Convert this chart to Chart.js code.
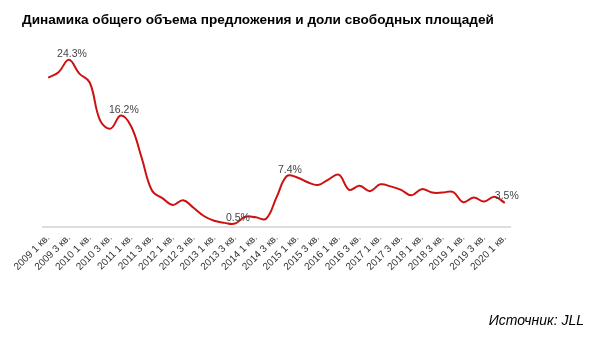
<!DOCTYPE html>
<html>
<head>
<meta charset="utf-8">
<script src="https://cdn.jsdelivr.net/npm/chart.js@4/dist/chart.umd.min.js"></script>
<style>
  html, body { margin: 0; padding: 0; background: #fff; }
  #wrap { position: relative; width: 600px; height: 342px; overflow: hidden; }
  #title { position: absolute; left: 22px; top: 12px; font: bold 13.6px "Liberation Sans", Arial, sans-serif; color: #000; white-space: nowrap; }
  #source { position: absolute; right: 16px; top: 312px; font: italic 14px "Liberation Sans", Arial, sans-serif; color: #000; white-space: nowrap; }
  #c { position: absolute; left: 0; top: 0; }
</style>
</head>
<body>
<div id="wrap">
  <canvas id="c" width="600" height="342"></canvas>
  <div id="title">Динамика общего объема предложения и доли свободных площадей</div>
  <div id="source">Источник: JLL</div>
</div>
<script>
const categories = [
  "2009 1 кв.","2009 2 кв.","2009 3 кв.","2009 4 кв.",
  "2010 1 кв.","2010 2 кв.","2010 3 кв.","2010 4 кв.",
  "2011 1 кв.","2011 2 кв.","2011 3 кв.","2011 4 кв.",
  "2012 1 кв.","2012 2 кв.","2012 3 кв.","2012 4 кв.",
  "2013 1 кв.","2013 2 кв.","2013 3 кв.","2013 4 кв.",
  "2014 1 кв.","2014 2 кв.","2014 3 кв.","2014 4 кв.",
  "2015 1 кв.","2015 2 кв.","2015 3 кв.","2015 4 кв.",
  "2016 1 кв.","2016 2 кв.","2016 3 кв.","2016 4 кв.",
  "2017 1 кв.","2017 2 кв.","2017 3 кв.","2017 4 кв.",
  "2018 1 кв.","2018 2 кв.","2018 3 кв.","2018 4 кв.",
  "2019 1 кв.","2019 2 кв.","2019 3 кв.","2019 4 кв.",
  "2020 1 кв."
];
const vacancy = [
  21.7, 22.5, 24.3, 22.3, 21.0, 15.5, 14.3, 16.2, 14.6, 10.1,
  5.3, 4.2, 3.2, 3.9, 2.8, 1.6, 0.9, 0.6, 0.5, 1.5,
  1.4, 1.2, 4.3, 7.4, 7.2, 6.5, 6.1, 6.9, 7.6, 5.4,
  6.0, 5.2, 6.2, 5.9, 5.4, 4.6, 5.5, 5.0, 5.0, 5.1,
  3.6, 4.3, 3.7, 4.4, 3.5
];
const labelledPoints = [2, 7, 18, 23, 44];

const valueLabels = {
  id: 'valueLabels',
  afterDatasetsDraw(chart) {
    const ctx = chart.ctx;
    const meta = chart.getDatasetMeta(0);
    ctx.save();
    ctx.font = '10.5px "Liberation Sans", Arial, sans-serif';
    ctx.fillStyle = '#444444';
    ctx.textBaseline = 'alphabetic';
    labelledPoints.forEach((i, k) => {
      const p = meta.data[i];
      const txt = vacancy[i].toFixed(1) + '%';
      if (k === labelledPoints.length - 1) {
        ctx.textAlign = 'left';
        ctx.fillText(txt, p.x - 10, p.y - 4);
      } else {
        ctx.textAlign = 'center';
        ctx.fillText(txt, p.x + 3, p.y - 3);
      }
    });
    ctx.restore();
  }
};

new Chart(document.getElementById('c'), {
  type: 'line',
  data: {
    labels: categories,
    datasets: [{
      data: vacancy,
      borderColor: '#cc1111',
      borderWidth: 2,
      pointRadius: 0,
      tension: 0.4,
      fill: false
    }]
  },
  options: {
    responsive: false,
    animation: false,
    layout: { padding: { left: 43, right: 90, top: 55, bottom: 55 } },
    plugins: { legend: { display: false }, tooltip: { enabled: false }, title: { display: false } },
    scales: {
      x: {
        offset: true,
        grid: { display: false, drawTicks: false },
        border: { display: true, color: '#dddddd', width: 2 },
        afterFit(scale) { scale.height = 60; },
        ticks: {
          autoSkip: false,
          minRotation: 45,
          maxRotation: 45,
          padding: 5,
          color: '#333333',
          font: { family: '"Liberation Sans", Arial, sans-serif', size: 10 },
          callback(v, idx) { return idx % 2 === 0 ? categories[idx] : ''; }
        }
      },
      y: { display: false, min: 0, max: 25 }
    }
  },
  plugins: [valueLabels]
});
</script>
</body>
</html>
